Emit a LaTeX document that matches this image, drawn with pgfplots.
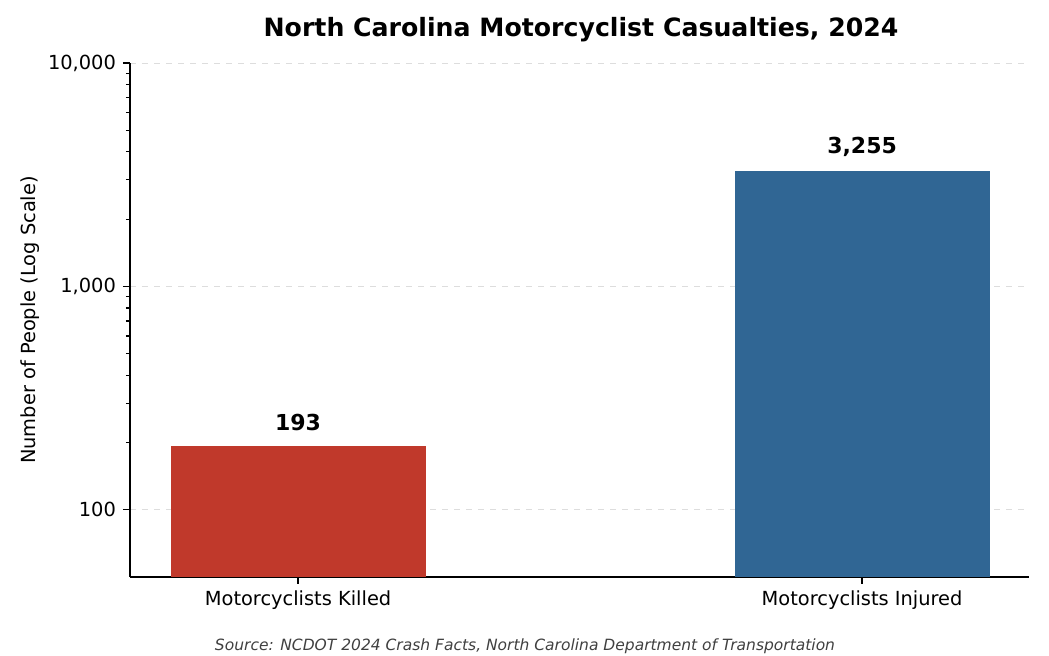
\documentclass[border=0pt]{standalone}
\usepackage{pgfplots}
\pgfplotsset{compat=1.18}
\usepackage{fontspec}
\setmainfont{DejaVu Sans}
\definecolor{killred}{HTML}{C0392B}
\definecolor{injblue}{HTML}{306694}
\definecolor{gridgray}{HTML}{DDDDDD}
\begin{document}
\begin{tikzpicture}
\path[use as bounding box] (-65pt,-39.5pt) rectangle (459.5pt,288.5pt);
\begin{axis}[
  at={(0,0)}, anchor=south west,
  scale only axis, width=449.5pt, height=257pt,
  ymode=log, ymin=50, ymax=10000,
  xmin=-0.298, xmax=1.296,
  axis x line*=bottom, axis y line*=left,
  tick align=outside,
  xtick={0,1}, xticklabels={Motorcyclists Killed, Motorcyclists Injured},
  ytick={100,1000,10000}, yticklabels={100,{1,000},{10,000}},
  tick label style={font=\fontsize{9.7}{11}\selectfont},
  ymajorgrids, major grid style={gridgray, dashed, line width=0.4pt},
  ybar, bar shift=0pt, bar width=0.45,
  axis line style={line width=0.6pt},
  every tick/.style={black, line width=0.6pt},
  major tick length=3.5pt, minor tick length=2pt,
  nodes near coords, point meta=explicit symbolic,
  nodes near coords style={font=\bfseries\fontsize{11}{13}\selectfont, yshift=4pt},
]
\addplot[fill=killred, draw=killred] coordinates {(0,193) [193]};
\addplot[fill=injblue, draw=injblue] coordinates {(1,3255) [{3,255}]};
\end{axis}
\node[rotate=90, font=\fontsize{9.7}{11}\selectfont] at (-50pt,128.5pt) {Number of People (Log Scale)};
\node[font=\bfseries\fontsize{12.6}{15}\selectfont] at (225.5pt,273.5pt) {North Carolina Motorcyclist Casualties, 2024};
\node[font=\itshape\fontsize{7.75}{9}\selectfont, text=black!75] at (197.5pt,-34.5pt) {Source: NCDOT 2024 Crash Facts, North Carolina Department of Transportation};
\end{tikzpicture}
\end{document}
